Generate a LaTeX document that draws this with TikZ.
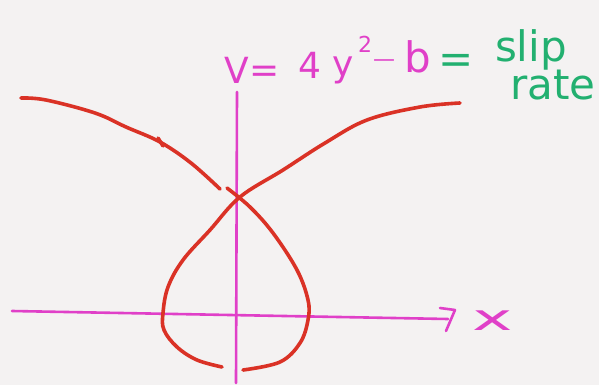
\documentclass[tikz,border=0pt]{standalone}
\usepackage{fontspec}
\setmainfont{DejaVu Sans}
\definecolor{bg}{HTML}{F4F2F2}
\definecolor{pen}{HTML}{DA3226}
\definecolor{mag}{HTML}{E040C8}
\definecolor{grn}{HTML}{22B070}
\begin{document}
\begin{tikzpicture}[x=1pt,y=-1pt,
  redline/.style={draw=pen,line width=3.6pt,line cap=round,line join=round},
  axis/.style={draw=mag,line width=2.6pt,line cap=round,line join=round},
  magtext/.style={text=mag,font=\fontsize{36}{36}\selectfont,inner sep=0pt},
  grntext/.style={text=grn,font=\fontsize{42}{42}\selectfont,inner sep=0pt}]
\fill[bg] (0,0) rectangle (599,385);
\useasboundingbox (0,0) rectangle (599,385);
% axes
\draw[axis] (237,92) -- (236,383);
\draw[axis] (12,311) -- (448,319);
\draw[axis] (440,308) -- (455,310) -- (446,331);
\node[magtext] (xlab) at (493,321) {\scalebox{1.9}[1.0]{x}};
% label
\node[magtext] (vv) at (237,70) {V};
\node[magtext] (eq1) at (265,74) {=};
\node[magtext] (four) at (310,65) {4};
\node[magtext] (yy) at (343,70) {y};
\node[magtext,font=\fontsize{22}{22}\selectfont] (sq) at (365,44) {2};
\node[magtext,font=\fontsize{22}{22}\selectfont] (minus) at (384,63) {—};
\node[magtext,font=\fontsize{42}{42}\selectfont] (bb) at (418,57) {b};
\node[grntext] (eq2) at (456,64) {=};
\node[grntext,anchor=base] (slip) at (531,62) {slip};
\node[grntext,anchor=base] (rate) at (553,100) {rate};
% red curve
\draw[redline] plot[smooth,tension=0.6] coordinates {(21,98) (46,100) (95,113) (126,127) (160,142) (191,163) (220,189)};
\draw[redline] (158,138) -- (163,146);
\draw[redline] plot[smooth,tension=0.6] coordinates {(460,103) (420,107) (367,120) (325,143) (283,170) (240,197) (210,230) (183,260) (168,287) (163,313) (164,330) (177,347) (197,360) (222,367)};
\draw[redline] plot[smooth,tension=0.6] coordinates {(227,188) (250,207) (273,233) (297,270) (308,300) (308,320) (300,343) (280,362) (243,370)};
\end{tikzpicture}
\end{document}
